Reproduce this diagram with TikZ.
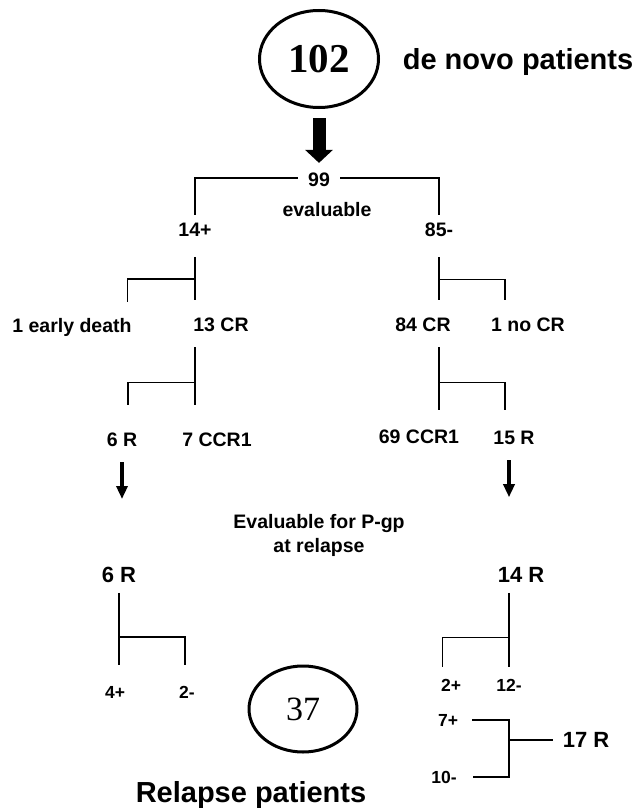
\documentclass[tikz,border=0pt]{standalone}
\usepackage{fontspec}
\setmainfont{Liberation Sans}
\newfontfamily\numfont{Liberation Serif}
\usetikzlibrary{shapes.geometric}
\usetikzlibrary{arrows.meta}

\begin{document}
\begin{tikzpicture}[
    x=1pt, y=-1pt, % one unit per pixel, y runs downwards
    every node/.style={
        inner sep=0pt, % labels sit tight on their text
        font=\bfseries\fontsize{19.5}{24}\selectfont % bold sans labels
    },
    title/.style={font=\bfseries\fontsize{29}{34}\selectfont}, % big captions
    count/.style={font=\bfseries\fontsize{22}{26}\selectfont}, % relapse counts
    split/.style={font=\bfseries\fontsize{17.5}{21}\selectfont}, % P-gp split
    ring/.style={draw, ellipse, line width=3pt}, % circled totals
    link/.style={line width=1.2pt}, % bracket lines
    fatarrow/.style={line width=13pt, -{Triangle[width=27pt,length=13pt]}},
    thinarrow/.style={line width=4pt, -{Triangle[width=11pt,length=13pt]}}
]
\useasboundingbox (0,0) rectangle (634,808);

% patients at diagnosis
\node[ring, minimum width=119pt, minimum height=97pt,
      font=\numfont\bfseries\fontsize{41}{41}\selectfont] (n102) at (319,59) {102};
\node[title] (denovo) at (518,62) {de novo patients};
\node (n99) at (319,180) {99};
\node (evaluable) at (327,210) {evaluable};
\node (pos14) at (195,230) {14+};
\node (neg85) at (439,230) {85-};

% outcome of induction
\node (death) at (72,327) {1 early death};
\node (cr13) at (221,325) {13 CR};
\node (cr84) at (423,325) {84 CR};
\node (nocr) at (528,325) {1 no CR};
\node (r6) at (122,440) {6 R};
\node (ccr7) at (217,440) {7 CCR1};
\node (ccr69) at (419,437) {69 CCR1};
\node (r15) at (514,438) {15 R};

% at relapse
\node[align=center] (pgp) at (319,535) {Evaluable for P-gp\\at relapse};
\node[count] (rr6) at (119,575) {6 R};
\node[count] (rr14) at (521,575) {14 R};
\node[split] (pos4) at (115,692) {4+};
\node[split] (neg2) at (187,692) {2-};
\node[split] (pos2) at (451,685) {2+};
\node[split] (neg12) at (509,685) {12-};
\node[split] (pos7) at (448,720) {7+};
\node[split] (neg10) at (444,777) {10-};
\node[count] (r17) at (586,740) {17 R};
\node[ring, minimum width=108pt, minimum height=86pt,
      font=\numfont\fontsize{34}{34}\selectfont] (n37) at (303,709) {37};
\node[title] (relapse) at (251,795) {Relapse patients};

% connectors
\draw[fatarrow, shorten <=9pt, shorten >=10pt] (n102) -- (n99);
\draw[link, shorten >=8pt] (n99.west) ++(-10,-2) -| (pos14.north);
\draw[link, shorten >=8pt] (n99.east) ++(10,-2) -| (neg85.north);

\draw[link, shorten <=20pt, shorten >=18pt] (pos14.south) -- (pos14.south |- cr13.north);
\draw[link, shorten >=16pt] (pos14.south) ++(0,42) -| ([xshift=-4pt]death.north east);
\draw[link, shorten <=20pt, shorten >=18pt] (neg85.south) -- (neg85.south |- cr84.north);
\draw[link, shorten >=18pt] (neg85.south) ++(0,42) -| ([xshift=14pt]nocr.north west);

\draw[link, shorten <=15pt, shorten >=28pt] (pos14.south |- cr13.south) -- (pos14.south |- ccr7.north);
\draw[link, shorten >=28pt] (pos14.south |- cr13.south) ++(0,50) -| ([xshift=6pt]r6.north);
\draw[link, shorten <=15pt, shorten >=20pt] (neg85.south |- cr84.south) -- (neg85.south |- ccr69.north);
\draw[link, shorten >=21pt] (neg85.south |- cr84.south) ++(0,50) -| ([xshift=-9pt]r15.north);

\draw[thinarrow, shorten <=15pt, shorten >=68pt] (r6.south) -- (r6.south |- rr6.north);
\draw[thinarrow, shorten <=15pt, shorten >=70pt] (neg12.north |- r15.south) -- (neg12.north |- rr14.north);

\draw[link, shorten <=10pt, shorten >=21pt] (rr6.south) -- (rr6.south |- pos4.north);
\draw[link, shorten >=21pt] (rr6.south) ++(0,54) -| ([xshift=-2pt]neg2.north);
\draw[link, shorten <=10pt, shorten >=12pt] (neg12.north |- rr14.south) -- (neg12.north);
\draw[link, shorten >=12pt] (neg12.north |- rr14.south) ++(0,55) -| ([xshift=2pt]pos2.north west);

\draw[link, shorten <=14pt, shorten >=16pt] (pos7.east) -| (neg12.north |- r17.west) |- (neg10.east);
\draw[link, shorten >=10pt] (neg12.north |- r17.west) -- (r17.west);
\end{tikzpicture}
\end{document}
